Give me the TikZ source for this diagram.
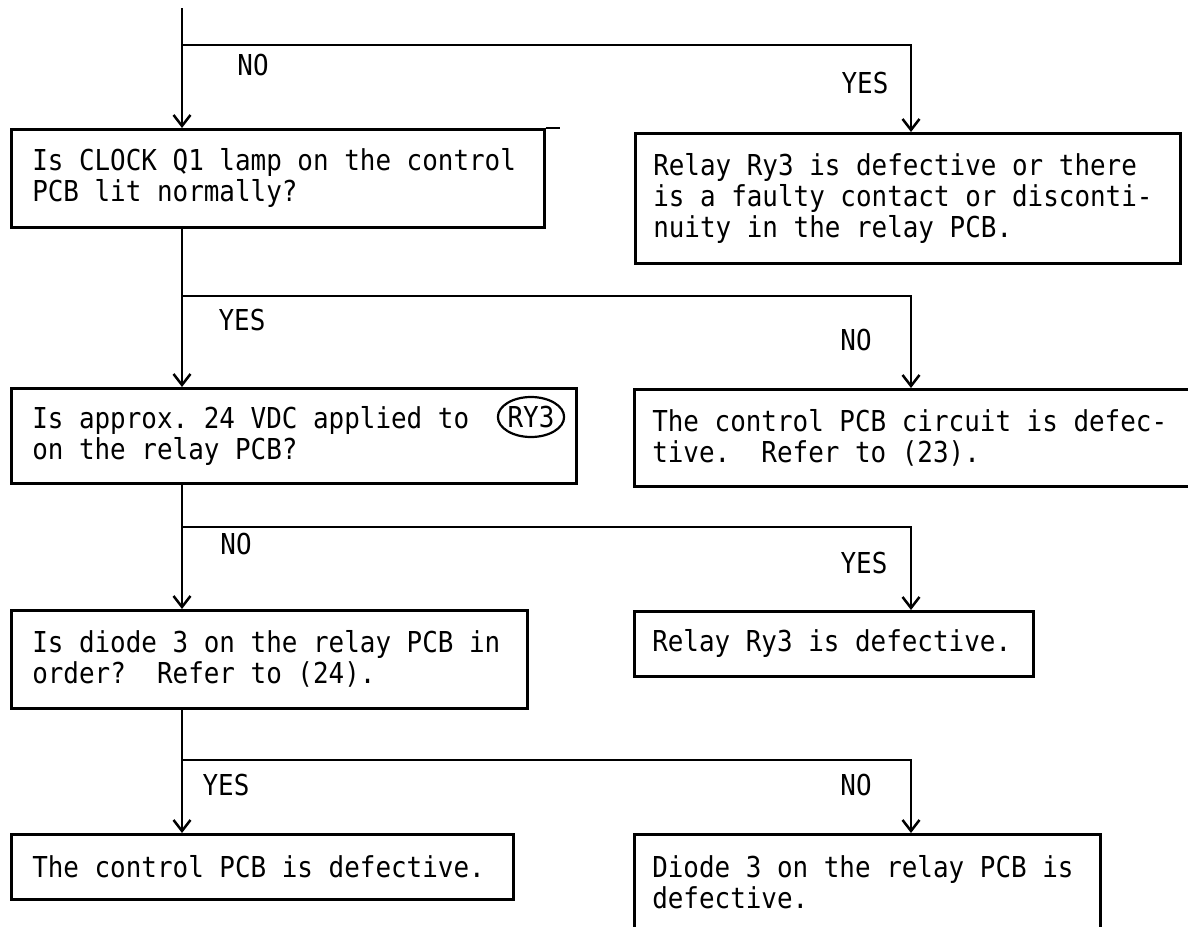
\documentclass[tikz,border=0pt]{standalone}
\usepackage{fontspec}
\newfontfamily\tw{DejaVu Sans Mono}[FakeStretch=0.9]
\usetikzlibrary{arrows.meta,shapes.geometric}
\tikzset{
  txt/.style={font=\tw\fontsize{28.8}{31}\selectfont,
    execute at begin node={\spaceskip=15.6pt\relax\xspaceskip=15.6pt\relax}},
  lbl/.style={txt, inner sep=0pt},
  box/.style={txt, draw, line width=2.5pt, anchor=north west, align=left, inner ysep=0pt},
  lbox/.style={box, inner xsep=21pt},
  rbox/.style={box, inner xsep=18pt},
  conn/.style={line width=2.5pt, -{Straight Barb[length=11pt,width=17pt]}},
  plain/.style={line width=2.5pt},
}
\begin{document}
\frenchspacing
\begin{tikzpicture}[x=1pt,y=-1pt]
\useasboundingbox (0,0) rectangle (1188,926);
\fill[white] (0,0) rectangle (1188,926);
\clip (0,0) rectangle (1188,926);

% boxes
\node[lbox, text width=491pt, minimum height=98pt] (q1) at (10,128)
  {Is CLOCK Q1 lamp on the control\\PCB lit normally?};
\node[rbox, text width=509pt, minimum height=130pt] (a1) at (634,132)
  {Relay Ry3 is defective or there\\is a faulty contact or disconti-\\nuity in the relay PCB.};
\node[lbox, text width=523pt, minimum height=95pt] (q2) at (10,387)
  {Is approx. 24 VDC applied to\\on the relay PCB?};
\node[lbl, ellipse, draw, line width=2.2pt, minimum width=63pt, minimum height=40pt] (ry3) at (531,417) {RY3};
\node[rbox, text width=524pt, minimum height=97pt] (a2) at (633,388)
  {The control PCB circuit is defec-\\tive.\ \ Refer to (23).};
\node[lbox, text width=474pt, minimum height=98pt] (q3) at (10,609)
  {Is diode 3 on the relay PCB in\\order?\ \ Refer to (24).};
\node[rbox, text width=363pt, minimum height=65pt] (a3) at (633,610)
  {Relay Ry3 is defective.};
\node[lbox, text width=460pt, minimum height=65pt] (a4) at (10,833)
  {The control PCB is defective.};
\node[rbox, text width=430pt, minimum height=96pt] (a5) at (633,833)
  {Diode 3 on the relay PCB is\\defective.};

% labels
\node[lbl] (no1) at (253,65) {NO};
\node[lbl] (yes1) at (865,83) {YES};
\node[lbl] (yes2) at (242,320) {YES};
\node[lbl] (no2) at (856,340) {NO};
\node[lbl] (no3) at (236,544) {NO};
\node[lbl] (yes3) at (864,563) {YES};
\node[lbl] (yes4) at (226,785) {YES};
\node[lbl] (no4) at (856,785) {NO};

% coordinates
\coordinate (top) at (182,8);
\coordinate (rx) at (911,0);
\coordinate (j1) at (182,45);
\coordinate (j2) at (182,296);
\coordinate (j3) at (182,527);
\coordinate (j4) at (182,760);

% connectors
\draw[conn] (top) -- (top |- q1.north);
\draw[conn] (j1) -| (rx |- a1.north);
\draw[conn] (q1.south -| top) -- (top |- q2.north);
\draw[conn] (j2) -| (rx |- a2.north);
\draw[conn] (q2.south -| top) -- (top |- q3.north);
\draw[conn] (j3) -| (rx |- a3.north);
\draw[conn] (q3.south -| top) -- (top |- a4.north);
\draw[conn] (j4) -| (rx |- a5.north);
\draw[plain] (q1.north east) -- ++(14,0);
\end{tikzpicture}
\end{document}
